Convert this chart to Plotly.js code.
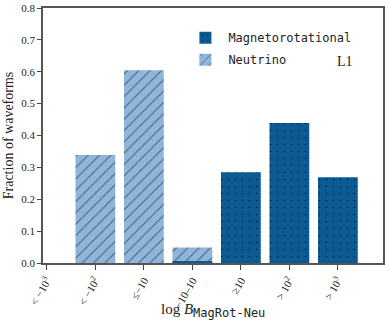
<!DOCTYPE html>
<html>
<head>
<meta charset="utf-8">
<script src="https://cdn.plot.ly/plotly-3.0.1.min.js"></script>
<style>
  body { margin: 0; }
  #plot { width: 390px; height: 325px; }
</style>
</head>
<body>
<div id="plot"></div>
<script>
// bins of log B (magnetorotational vs neutrino), fraction of waveforms per bin
var bins = ["< −10<sup>3</sup>", "< −10<sup>2</sup>", "≤−10", "−10–10", "≥10", "> 10<sup>2</sup>", "> 10<sup>3</sup>"];
var neutrinoFrac = [0, 0.339, 0.605, 0.049, 0, 0, 0];
var magRotFrac = [0, 0, 0, 0.004, 0.285, 0.439, 0.269];

var serif = "Liberation Serif, DejaVu Serif, serif";
var mono = "DejaVu Sans Mono, Liberation Mono, monospace";

var neutrino = {
    x: bins,
    y: neutrinoFrac,
    type: "bar",
    name: "Neutrino",
    legendgroup: "neu",
    legendrank: 2,
    width: 0.82,
    marker: {
        color: "#8db6da",
        line: {width: 0},
        pattern: {shape: "/", fgcolor: "#4b5d70", bgcolor: "#8db6da", size: 8, solidity: 0.12}
    }
};

var magRot = {
    x: bins,
    y: magRotFrac,
    type: "bar",
    name: "Magnetorotational",
    legendgroup: "mag",
    legendrank: 1,
    width: 0.82,
    marker: {
        color: "#0c5a94",
        line: {width: 0},
        pattern: {shape: ".", fgcolor: "#061a2c", bgcolor: "#0c5a94", size: 7, solidity: 0.04}
    }
};

var data = [neutrino, magRot];

var layout = {
    width: 390,
    height: 325,
    margin: {l: 43, r: 7, t: 8, b: 62},
    barmode: "overlay",
    plot_bgcolor: "white",
    paper_bgcolor: "white",
    font: {family: serif, size: 11, color: "#222"},
    showlegend: true,
    legend: {
        x: 0.41, y: 0.94, xanchor: "left", yanchor: "top",
        traceorder: "grouped",
        tracegroupgap: 3,
        font: {family: mono, size: 12, color: "#222"},
        bgcolor: "rgba(0,0,0,0)",
        itemwidth: 36
    },
    xaxis: {
        type: "category",
        range: [-0.08, 6.93],
        tickangle: -60,
        ticks: "outside",
        ticklen: 5,
        tickcolor: "#444",
        showline: true,
        linecolor: "#555",
        linewidth: 1.5,
        mirror: true,
        showgrid: false,
        tickfont: {family: serif, size: 11, color: "#222"}
    },
    yaxis: {
        range: [0, 0.8],
        dtick: 0.1,
        tickformat: ".1f",
        ticks: "outside",
        ticklen: 4,
        tickcolor: "#444",
        showline: true,
        linecolor: "#555",
        linewidth: 1.5,
        mirror: true,
        showgrid: false,
        zeroline: false,
        tickfont: {family: serif, size: 11, color: "#222"},
        title: {text: "Fraction of waveforms", font: {family: serif, size: 14}, standoff: 4}
    },
    annotations: [{
        text: "L1",
        x: 0.86, y: 0.79, xref: "paper", yref: "paper",
        xanchor: "left", yanchor: "middle",
        showarrow: false,
        font: {family: serif, size: 14, color: "#222"}
    }, {
        text: "log <i>B</i><sub><span style=\"font-family:DejaVu Sans Mono;font-size:12px\">MagRot-Neu</span></sub>",
        x: 0.5, y: -0.185, xref: "paper", yref: "paper",
        xanchor: "center", yanchor: "middle",
        showarrow: false,
        font: {family: serif, size: 15, color: "#222"}
    }]
};

Plotly.newPlot("plot", data, layout, {displayModeBar: false});
</script>
</body>
</html>
